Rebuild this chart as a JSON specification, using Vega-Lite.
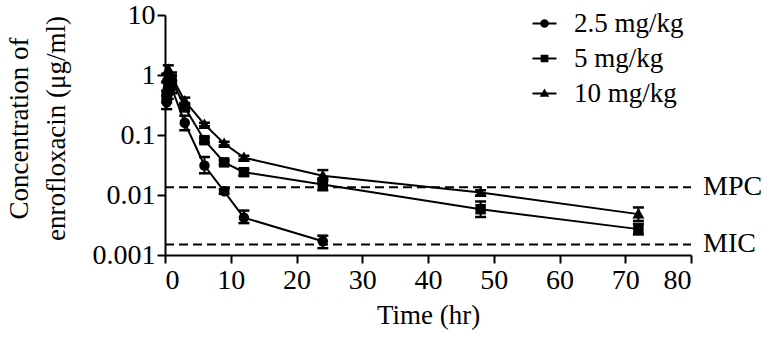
{
  "$schema": "https://vega.github.io/schema/vega-lite/v6.json",
  "autosize": {"type": "none"},
  "padding": {"left": 165, "top": 15, "right": 84, "bottom": 83},
  "width": 526,
  "height": 240,
  "background": "white",
  "config": {
    "view": {"stroke": null},
    "font": "Liberation Serif",
    "axis": {
      "grid": false,
      "domainColor": "black",
      "domainWidth": 2,
      "tickColor": "black",
      "tickWidth": 2,
      "tickSize": 8,
      "labelColor": "black",
      "labelFont": "Liberation Serif",
      "labelFontSize": 28,
      "titleFont": "Liberation Serif",
      "titleFontSize": 27,
      "titleFontWeight": "normal",
      "titleColor": "black"
    },
    "legend": {
      "labelFont": "Liberation Serif",
      "labelFontSize": 27,
      "labelColor": "black"
    }
  },
  "datasets": {
    "pk": [
      {"dose": "2.5 mg/kg", "time": 0.25, "mean": 0.35, "low": 0.27, "high": 0.45},
      {"dose": "2.5 mg/kg", "time": 0.5, "mean": 0.5, "low": 0.4, "high": 0.6},
      {"dose": "2.5 mg/kg", "time": 1, "mean": 0.62, "low": 0.5, "high": 0.75},
      {"dose": "2.5 mg/kg", "time": 3, "mean": 0.16, "low": 0.12, "high": 0.21},
      {"dose": "2.5 mg/kg", "time": 6, "mean": 0.031, "low": 0.023, "high": 0.043},
      {"dose": "2.5 mg/kg", "time": 9, "mean": 0.0115, "low": 0.0105, "high": 0.0125},
      {"dose": "2.5 mg/kg", "time": 12, "mean": 0.0042, "low": 0.0034, "high": 0.0055},
      {"dose": "2.5 mg/kg", "time": 24, "mean": 0.0017, "low": 0.0013, "high": 0.0021},
      {"dose": "5 mg/kg", "time": 0.25, "mean": 0.45, "low": 0.35, "high": 0.55},
      {"dose": "5 mg/kg", "time": 0.5, "mean": 0.7, "low": 0.58, "high": 0.85},
      {"dose": "5 mg/kg", "time": 1, "mean": 0.85, "low": 0.72, "high": 0.98},
      {"dose": "5 mg/kg", "time": 3, "mean": 0.29, "low": 0.25, "high": 0.34},
      {"dose": "5 mg/kg", "time": 6, "mean": 0.082, "low": 0.075, "high": 0.09},
      {"dose": "5 mg/kg", "time": 9, "mean": 0.035, "low": 0.032, "high": 0.038},
      {"dose": "5 mg/kg", "time": 12, "mean": 0.024, "low": 0.021, "high": 0.027},
      {"dose": "5 mg/kg", "time": 24, "mean": 0.015, "low": 0.012, "high": 0.017},
      {"dose": "5 mg/kg", "time": 48, "mean": 0.0058, "low": 0.0043, "high": 0.0078},
      {"dose": "5 mg/kg", "time": 72, "mean": 0.0027, "low": 0.0022, "high": 0.0033},
      {"dose": "10 mg/kg", "time": 0.25, "mean": 0.9, "low": 0.75, "high": 1.05},
      {"dose": "10 mg/kg", "time": 0.5, "mean": 1.25, "low": 1.05, "high": 1.45},
      {"dose": "10 mg/kg", "time": 1, "mean": 0.95, "low": 0.8, "high": 1.1},
      {"dose": "10 mg/kg", "time": 3, "mean": 0.37, "low": 0.33, "high": 0.42},
      {"dose": "10 mg/kg", "time": 6, "mean": 0.15, "low": 0.14, "high": 0.16},
      {"dose": "10 mg/kg", "time": 9, "mean": 0.072, "low": 0.067, "high": 0.077},
      {"dose": "10 mg/kg", "time": 12, "mean": 0.042, "low": 0.039, "high": 0.045},
      {"dose": "10 mg/kg", "time": 24, "mean": 0.021, "low": 0.019, "high": 0.026},
      {"dose": "10 mg/kg", "time": 48, "mean": 0.011, "low": 0.0098, "high": 0.012},
      {"dose": "10 mg/kg", "time": 72, "mean": 0.0048, "low": 0.0037, "high": 0.0062}
    ],
    "ref": [
      {"label": "MPC", "value": 0.0135, "x0": 0, "x1": 80},
      {"label": "MIC", "value": 0.0015, "x0": 0, "x1": 80}
    ]
  },
  "resolve": {"scale": {"shape": "independent"}, "legend": {"shape": "independent"}},
  "layer": [
    {
      "data": {"name": "ref"},
      "mark": {"type": "rule", "strokeDash": [9, 5], "strokeWidth": 2, "color": "black", "opacity": 1},
      "encoding": {
        "x": {"field": "x0", "type": "quantitative", "scale": {"domain": [0, 80], "nice": false},
          "axis": {"values": [0, 10, 20, 30, 40, 50, 60, 70, 80], "title": "Time (hr)", "labelPadding": 3, "titlePadding": 8,
            "labelFont": "Liberation Serif", "titleFont": "Liberation Serif"}},
        "x2": {"field": "x1"},
        "y": {"field": "value", "type": "quantitative",
          "scale": {"type": "log", "domain": [0.001, 10], "nice": false},
          "axis": {"values": [0.001, 0.01, 0.1, 1, 10], "format": "~g", "labelPadding": 2, "titlePadding": 22,
            "titleLineHeight": 37, "titleY": 113,
            "labelFont": "Liberation Serif", "titleFont": "Liberation Serif",
            "title": ["Concentration of", "enrofloxacin (μg/ml)"]}}
      }
    },
    {
      "data": {"name": "ref"},
      "mark": {"type": "text", "align": "left", "baseline": "middle", "dx": 12, "fontSize": 28, "font": "Liberation Serif", "color": "black"},
      "encoding": {
        "x": {"field": "x1", "type": "quantitative"},
        "y": {"field": "value", "type": "quantitative"},
        "text": {"field": "label"}
      }
    },
    {
      "data": {"name": "pk"},
      "mark": {"type": "rule", "strokeWidth": 2, "color": "black", "opacity": 1},
      "encoding": {
        "x": {"field": "time", "type": "quantitative"},
        "y": {"field": "low", "type": "quantitative"},
        "y2": {"field": "high"},
        "detail": {"field": "dose"}
      }
    },
    {
      "data": {"name": "pk"},
      "mark": {"type": "tick", "orient": "horizontal", "size": 11, "thickness": 2.5, "color": "black", "opacity": 1},
      "encoding": {
        "x": {"field": "time", "type": "quantitative"},
        "y": {"field": "low", "type": "quantitative"}
      }
    },
    {
      "data": {"name": "pk"},
      "mark": {"type": "tick", "orient": "horizontal", "size": 11, "thickness": 2.5, "color": "black", "opacity": 1},
      "encoding": {
        "x": {"field": "time", "type": "quantitative"},
        "y": {"field": "high", "type": "quantitative"}
      }
    },
    {
      "data": {"name": "pk"},
      "mark": {"type": "line", "strokeWidth": 2, "color": "black", "opacity": 1},
      "encoding": {
        "x": {"field": "time", "type": "quantitative"},
        "y": {"field": "mean", "type": "quantitative"},
        "detail": {"field": "dose"}
      }
    },
    {
      "data": {"name": "pk"},
      "mark": {"type": "point", "filled": true, "opacity": 1, "color": "black", "size": 110},
      "encoding": {
        "x": {"field": "time", "type": "quantitative"},
        "y": {"field": "mean", "type": "quantitative"},
        "shape": {
          "field": "dose", "type": "nominal",
          "scale": {"domain": ["2.5 mg/kg", "5 mg/kg", "10 mg/kg"], "range": ["circle", "square", "M0,-1.15L1.15,0.85H-1.15Z"]},
          "legend": null
        }
      }
    },
    {
      "data": {"name": "pk"},
      "transform": [{"filter": "datum.time < 0"}],
      "mark": {"type": "point", "filled": true, "color": "black", "size": 576, "opacity": 1},
      "encoding": {
        "x": {"field": "time", "type": "quantitative"},
        "y": {"field": "mean", "type": "quantitative"},
        "shape": {
          "field": "dose", "type": "nominal",
          "scale": {"domain": ["2.5 mg/kg", "5 mg/kg", "10 mg/kg"],
            "range": [
              "M-1,-0.085H1V0.085H-1ZM0.36,0L0.312,0.18L0.18,0.312L0,0.36L-0.18,0.312L-0.312,0.18L-0.36,0L-0.312,-0.18L-0.18,-0.312L0,-0.36L0.18,-0.312L0.312,-0.18Z",
              "M-1,-0.085H1V0.085H-1ZM-0.32,-0.32H0.32V0.32H-0.32Z",
              "M-1,-0.085H1V0.085H-1ZM0,-0.42L0.4,0.28H-0.4Z"
            ]},
          "legend": {
            "title": null,
            "orient": "none",
            "legendX": 366,
            "legendY": -5,
            "symbolSize": 576,
            "symbolFillColor": "black",
            "symbolOpacity": 1,
            "labelOffset": 16,
            "rowPadding": 7
          }
        }
      }
    }
  ]
}
